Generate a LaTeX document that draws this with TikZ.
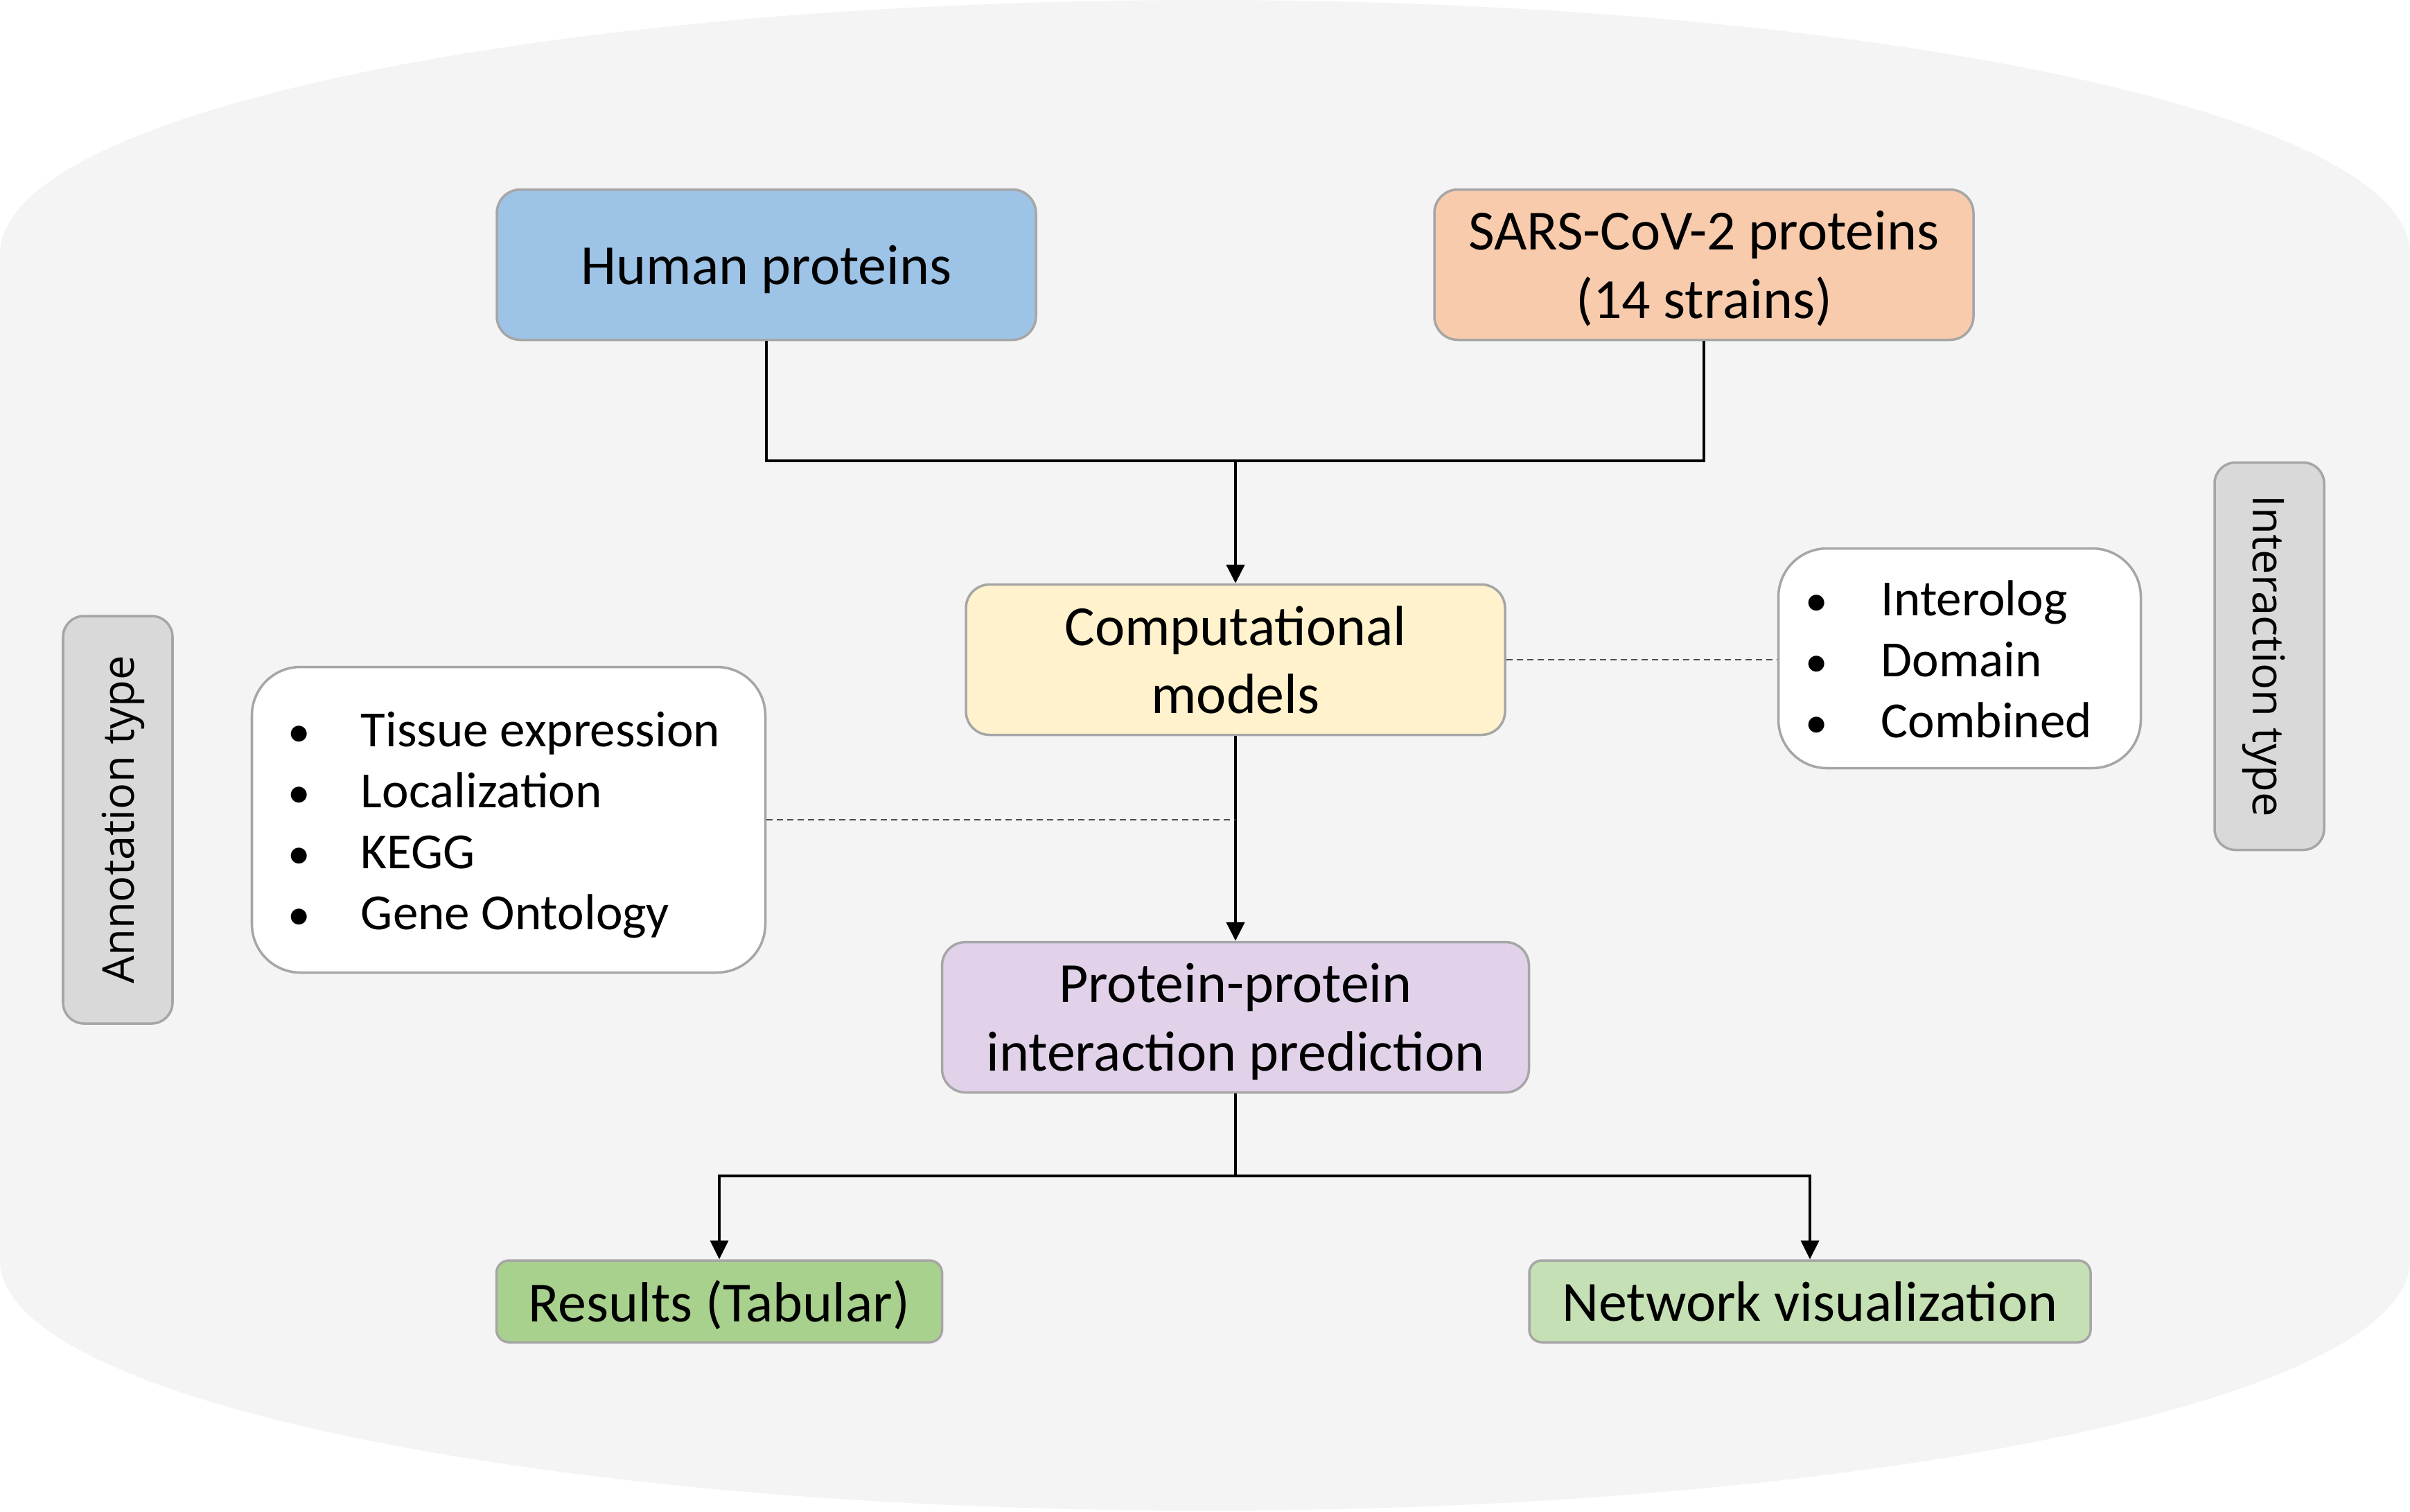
\documentclass[tikz,border=0pt]{standalone}
\usepackage{fontspec}
\setmainfont{Carlito}
\newfontfamily\sidefont{Open Sans}
\usetikzlibrary{arrows.meta}
\definecolor{bggray}{HTML}{F4F4F4}
\definecolor{edgegray}{HTML}{A6A6A6}
\definecolor{humanblue}{HTML}{9DC3E6}
\definecolor{sarsorange}{HTML}{F8CBAD}
\definecolor{modelyellow}{HTML}{FFF2CC}
\definecolor{ppililac}{HTML}{E1D2EA}
\definecolor{resultgreen}{HTML}{A9D18E}
\definecolor{netgreen}{HTML}{C5E0B4}
\definecolor{sidegray}{HTML}{D9D9D9}
\newcommand{\dotitem}{\makebox[0.3cm]{\fontsize{18.5}{18.5}\selectfont\textbullet}}
\begin{document}
\begin{tikzpicture}[stage/.style={draw=edgegray,line width=1pt,rounded corners=0.34cm,align=center,inner sep=0pt,text depth=0pt,minimum width=7.78cm,minimum height=2.17cm,font=\fontsize{23.3}{28}\selectfont},
  outcome/.style={stage,rounded corners=0.18cm,minimum height=1.18cm},
  listbox/.style={draw=edgegray,line width=1pt,fill=white,rounded corners=0.7cm,inner sep=0pt,font=\fontsize{20.8}{25}\selectfont},
  sidebox/.style={draw=edgegray,line width=1pt,fill=sidegray,rounded corners=0.3cm,inner sep=0pt,text depth=0pt,minimum height=1.58cm,font=\sidefont\fontsize{18}{22}\selectfont},
  link/.style={line width=1.35pt},
  thinlink/.style={line width=1pt},
  tip/.style={-{Triangle[length=2.7mm,width=2.6mm]}},
  dashlink/.style={line width=0.5pt,black!70,dash pattern=on 0.9mm off 0.6mm}]
    \useasboundingbox (0,0) rectangle (34.78,-21.81);
    \fill [bggray] (0,-3.66) arc[start angle=180,end angle=0,x radius=17.39,y radius=3.66] -- (34.78,-18.19) arc[start angle=0,end angle=-180,x radius=17.39,y radius=3.61] -- cycle;
%
    \node (human) at (11.06,-3.82) [stage,fill=humanblue] {Human proteins};
    \node (sars) at (24.59,-3.82) [stage,fill=sarsorange] {SARS-CoV-2 proteins\\(14 strains)};
    \node (comp) at (17.83,-9.52) [stage,fill=modelyellow] {Computational\\models};
    \node (ppi) at (17.83,-14.68) [stage,fill=ppililac,minimum width=8.47cm] {Protein-protein\\interaction prediction};
    \node (results) at (10.38,-18.78) [outcome,fill=resultgreen,minimum width=6.43cm] {Results (Tabular)};
    \node (network) at (26.12,-18.78) [outcome,fill=netgreen,minimum width=8.10cm] {Network visualization};
%
    \node (intlist) at (28.28,-9.50) [listbox,minimum width=5.23cm,minimum height=3.17cm] {\raisebox{-0.09cm}[\height][\depth]{\begin{tabular}{@{}l@{\hspace{0.78cm}}l@{\hspace{0.3cm}}}\dotitem & Interolog\\ \dotitem & Domain\\ \dotitem & Combined\end{tabular}}};
    \node (annlist) at (7.34,-11.83) [listbox,minimum width=7.41cm,minimum height=4.41cm] {\raisebox{-0.09cm}[\height][\depth]{\begin{tabular}{@{}l@{\hspace{0.74cm}}l@{\hspace{0.12cm}}}\dotitem & Tissue expression\\ \dotitem & Localization\\ \dotitem & KEGG\\ \dotitem & Gene Ontology\end{tabular}}};
    \node (anntype) at (1.70,-11.83) [sidebox,minimum width=5.88cm,rotate=90] {Annotation type};
    \node (inttype) at (32.75,-9.47) [sidebox,minimum width=5.59cm,rotate=-90] {Interaction type};
%
    \coordinate (topjoin) at (17.83,-6.65);
    \coordinate (botjoin) at (17.83,-16.97);
    \coordinate (annjoin) at (comp.south |- annlist.east);
%
    \draw [link] (human.south) |- (topjoin) -| (sars.south);
    \draw [link,tip] (topjoin) -- (comp.north);
    \draw [link,tip] (comp.south) -- (ppi.north);
    \draw [thinlink] (ppi.south) -- (botjoin);
    \draw [thinlink,tip] (botjoin) -| (results.north);
    \draw [thinlink,tip] (botjoin) -| (network.north);
%
    \draw [dashlink] (comp.east) -- (comp.east -| intlist.west);
    \draw [dashlink] (annlist.east) -- (annjoin);
  \end{tikzpicture}
\end{document}
